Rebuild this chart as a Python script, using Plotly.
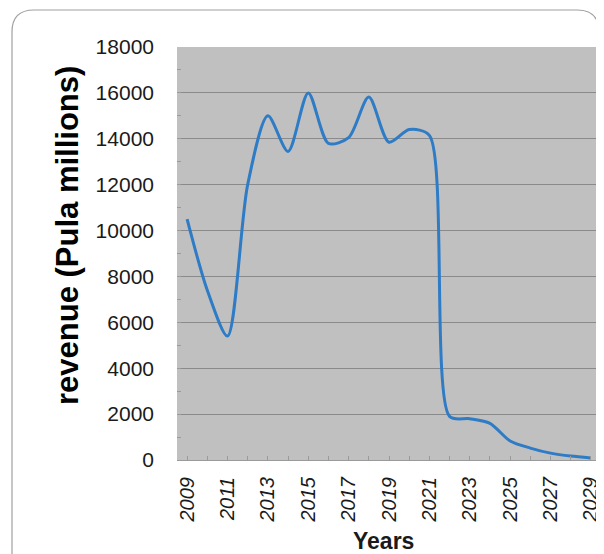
import plotly.graph_objects as go

years = list(range(2009, 2030))
revenue = [10500, 7400, 5400, 12000, 15000, 13450, 16000, 13800, 14050, 15820,
           13850, 14400, 14150, 1900, 1800, 1600, 830, 520, 300, 170, 90]
x_tick_labels = [str(y) for y in range(2009, 2030, 2)]
y_tick_values = list(range(0, 18001, 2000))
y_tick_labels = [str(v) for v in y_tick_values]

# page has an 8px body margin; work in page pixels and shift
OFF = 8
W, H = 596, 546
L, R, T, B = 169, 3, 39, 94
pw, ph = W - L - R, H - T - B


def px(x):
    return (x - OFF - L) / pw


def py(y):
    return (H - B - (y - OFF)) / ph


fig = go.Figure()
fig.add_trace(go.Scatter(
    x=years, y=revenue, mode="lines",
    line=dict(color="#2e7bc6", width=3, shape="spline", smoothing=0.8),
    showlegend=False,
))

# rounded border box
x0, y0, x1, y1 = px(12), py(10), px(599), py(620)
r, ry = 22 / pw, 22 / ph
path = (f"M {x0} {y1} L {x0} {y0 - ry} Q {x0} {y0} {x0 + r} {y0} "
        f"L {x1 - r} {y0} Q {x1} {y0} {x1} {y0 - ry} L {x1} {y1}")
fig.add_shape(type="path", path=path, xref="paper", yref="paper",
              line=dict(color="#a0a0a0", width=1.2), layer="below")

fig.update_layout(
    width=W, height=H,
    margin=dict(l=L, r=R, t=T, b=B),
    paper_bgcolor="white",
    plot_bgcolor="#c0c0c0",
    font=dict(family="Liberation Sans, Arial, sans-serif", color="#1a1a1a"),
    xaxis=dict(
        range=[2008.5, 2029.5],
        tickmode="array", tickvals=list(range(2009, 2030, 2)), ticktext=x_tick_labels,
        tickangle=-90, tickfont=dict(size=20, style="italic"),
        showgrid=False, zeroline=False,
        ticks="inside", ticklen=4, tickcolor="#9a9a9a",
        minor=dict(ticks="inside", ticklen=4, tickcolor="#9a9a9a", dtick=1),
        showline=True, linecolor="#9a9a9a", linewidth=1,
        ticklabelstandoff=8, ticklabeloverflow="allow",
    ),
    yaxis=dict(
        range=[0, 18000], tickmode="array", tickvals=y_tick_values, ticktext=y_tick_labels,
        tickfont=dict(size=21),
        showgrid=True, gridcolor="#8a8a8a", gridwidth=1.2,
        zeroline=False,
        ticks="inside", ticklen=4, tickcolor="#9a9a9a",
        minor=dict(ticks="inside", ticklen=4, tickcolor="#9a9a9a", dtick=1000, showgrid=False),
        ticklabelstandoff=22,
    ),
    annotations=[
        dict(text="<b>revenue (Pula millions)</b>", xref="paper", yref="paper",
             x=px(67), y=py(236), textangle=-90, showarrow=False,
             font=dict(size=31, color="black"), xanchor="center", yanchor="middle"),
        dict(text="<b>Years</b>", xref="paper", yref="paper",
             x=px(383), y=py(541), showarrow=False,
             font=dict(size=23, color="#1a1a1a"), xanchor="center", yanchor="middle"),
    ],
)

fig.write_html("out.html")
